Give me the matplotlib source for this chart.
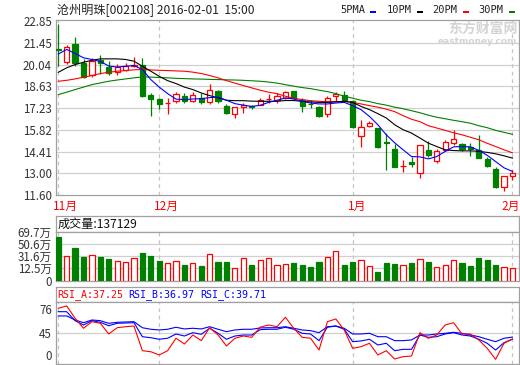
import matplotlib
matplotlib.use('Agg')
import matplotlib.pyplot as plt
import matplotlib.transforms as mtransforms
from matplotlib.patches import Rectangle
import numpy as np

plt.rcParams['font.family'] = ['Noto Sans CJK SC', 'DejaVu Sans']

# ---------------- data ----------------
title = '沧州明珠[002108] 2016-02-01  15:00'
opens = [21.09, 20.23, 21.37, 20.16, 19.40, 20.33, 19.92, 19.60, 19.68, 19.98,
         20.00, 18.06, 17.80, 17.55, 17.67, 18.04, 17.71, 17.89, 17.60, 18.36,
         17.39, 16.85, 17.30, 17.35, 17.45, 17.80, 17.78, 17.89, 18.31, 17.73,
         17.52, 17.30, 16.86, 18.04, 18.10, 17.67, 15.44, 16.04, 15.94, 15.02,
         14.57, 13.47, 13.73, 13.01, 14.53, 13.83, 14.53, 14.96, 14.92, 14.70,
         14.53, 13.92, 13.29, 12.14, 12.84]
highs = [22.67, 21.33, 21.81, 20.40, 20.49, 20.66, 20.25, 20.07, 20.16, 20.55,
         20.46, 18.23, 17.91, 17.89, 18.25, 18.21, 18.28, 18.21, 18.82, 18.40,
         17.52, 17.30, 17.56, 17.45, 17.89, 18.15, 18.21, 18.31, 18.33, 17.89,
         17.73, 17.34, 18.04, 18.25, 18.32, 17.78, 16.48, 16.37, 15.94, 15.63,
         14.90, 13.88, 14.09, 14.85, 15.07, 14.57, 15.18, 15.78, 15.00, 15.00,
         15.50, 14.09, 13.44, 12.84, 13.23]
lows = [19.97, 20.07, 19.97, 19.20, 19.25, 19.42, 19.38, 19.38, 19.62, 19.92,
        17.97, 16.69, 17.15, 16.82, 17.56, 17.56, 17.60, 17.52, 17.50, 17.56,
        16.87, 16.59, 16.91, 17.17, 17.41, 17.56, 17.58, 17.80, 17.82, 16.95,
        17.24, 16.65, 16.65, 17.67, 17.67, 15.94, 14.70, 16.00, 14.64, 13.23,
        13.44, 13.10, 13.44, 12.69, 14.09, 13.70, 14.42, 14.85, 14.48, 14.13,
        13.98, 13.40, 12.07, 11.86, 12.58]
closes = [20.98, 21.16, 20.14, 19.25, 20.31, 20.14, 19.53, 19.90, 19.94, 20.05,
          18.02, 17.80, 17.47, 17.58, 18.17, 17.67, 18.10, 17.63, 18.38, 17.71,
          16.91, 17.30, 17.43, 17.33, 17.78, 17.85, 18.04, 18.25, 17.89, 17.34,
          17.49, 16.69, 17.89, 18.17, 17.73, 16.00, 16.00, 16.26, 14.70, 15.00,
          13.44, 13.50, 13.62, 14.85, 14.16, 14.42, 15.03, 15.22, 14.57, 14.57,
          13.98, 13.49, 12.14, 12.84, 13.05]
ma5 = [20.73, 21.03, 20.77, 20.49, 20.38, 20.25, 19.96, 19.89, 19.94, 19.99,
       19.73, 19.08, 18.59, 18.17, 17.81, 17.78, 17.82, 17.84, 17.91, 17.94,
       17.74, 17.52, 17.42, 17.34, 17.41, 17.60, 17.73, 17.89, 17.82, 17.67,
       17.56, 17.50, 17.50, 17.56, 17.60, 17.39, 17.13, 16.69, 16.15, 15.50,
       14.98, 14.53, 14.09, 14.07, 13.94, 14.09, 14.42, 14.72, 14.74, 14.72,
       14.49, 14.17, 13.77, 13.36, 13.13]
ma10 = [19.55, 19.84, 20.05, 20.20, 20.33, 20.42, 20.42, 20.42, 20.38, 20.27,
        19.94, 19.62, 19.29, 19.01, 18.82, 18.59, 18.43, 18.21, 18.04, 17.89,
        17.74, 17.71, 17.71, 17.68, 17.67, 17.67, 17.67, 17.72, 17.72, 17.67,
        17.63, 17.60, 17.60, 17.63, 17.67, 17.60, 17.34, 17.13, 16.87, 16.59,
        16.15, 15.83, 15.61, 15.29, 14.96, 14.74, 14.53, 14.48, 14.46, 14.46,
        14.43, 14.36, 14.27, 14.14, 13.99]
ma20 = [18.97, 19.03, 19.12, 19.23, 19.34, 19.47, 19.55, 19.62, 19.66, 19.71,
        19.73, 19.70, 19.68, 19.66, 19.64, 19.62, 19.56, 19.47, 19.34, 19.19,
        19.01, 18.85, 18.69, 18.54, 18.39, 18.26, 18.17, 18.00, 17.87, 17.78,
        17.71, 17.67, 17.65, 17.65, 17.66, 17.60, 17.50, 17.39, 17.29, 17.16,
        17.00, 16.74, 16.51, 16.35, 16.09, 15.94, 15.79, 15.63, 15.50, 15.34,
        15.18, 14.95, 14.74, 14.53, 14.33]
ma30 = [18.10, 18.26, 18.43, 18.59, 18.75, 18.86, 18.97, 19.05, 19.12, 19.19,
        19.25, 19.24, 19.21, 19.19, 19.16, 19.14, 19.12, 19.11, 19.09, 19.08,
        19.06, 19.05, 19.03, 19.00, 18.97, 18.92, 18.85, 18.75, 18.65, 18.56,
        18.49, 18.39, 18.30, 18.17, 18.00, 17.87, 17.74, 17.65, 17.52, 17.42,
        17.29, 17.19, 17.06, 16.93, 16.77, 16.64, 16.54, 16.44, 16.35, 16.25,
        16.09, 15.96, 15.79, 15.66, 15.53]
volume = [62.7, 32.0, 45.2, 30.9, 33.6, 30.9, 27.3, 24.1, 22.5, 28.8,
          37.3, 32.5, 24.5, 20.9, 24.1, 18.2, 20.9, 16.6, 35.2, 22.5,
          22.5, 13.4, 28.8, 18.2, 25.7, 28.8, 17.7, 19.3, 21.4, 17.7,
          14.5, 22.5, 30.4, 40.0, 17.7, 22.5, 25.7, 16.1, 6.6, 20.9,
          19.3, 17.7, 20.9, 27.3, 22.5, 14.5, 17.7, 25.7, 20.9, 16.1,
          29.3, 25.7, 17.7, 14.5, 13.7]
rsi_a = [76.9, 79.9, 64.0, 51.1, 59.6, 57.5, 43.7, 51.8, 53.1, 54.0,
         22.1, 20.8, 16.6, 22.1, 38.2, 30.8, 42.4, 35.1, 51.8, 42.4,
         28.2, 38.2, 41.1, 39.4, 52.5, 55.3, 53.1, 65.3, 51.1, 39.4,
         38.2, 23.0, 59.6, 63.1, 48.9, 25.2, 27.3, 31.7, 16.6, 22.1,
         11.4, 14.4, 15.3, 45.4, 38.2, 42.4, 55.3, 58.3, 43.7, 43.7,
         36.0, 25.2, 11.0, 31.7, 37.25]
rsi_b = [72.5, 72.5, 60.9, 55.3, 60.9, 58.8, 54.4, 57.5, 57.9, 58.3,
         40.2, 38.9, 36.9, 38.2, 43.7, 41.1, 45.4, 43.3, 51.1, 44.6,
         36.9, 41.1, 42.4, 42.4, 49.3, 49.8, 49.8, 52.4, 49.8, 44.6,
         43.7, 35.1, 52.4, 54.0, 49.8, 33.8, 34.7, 36.9, 29.5, 31.7,
         22.1, 23.9, 23.9, 42.4, 39.4, 40.2, 43.7, 45.4, 42.4, 41.1,
         36.9, 31.7, 23.0, 32.5, 36.97]
rsi_c = [67.0, 67.0, 61.8, 58.3, 61.8, 60.9, 57.5, 58.8, 59.2, 59.6,
         51.8, 49.8, 48.9, 49.8, 52.4, 50.2, 51.1, 50.2, 53.1, 49.8,
         46.7, 48.9, 49.8, 49.8, 51.5, 51.8, 51.8, 53.1, 51.1, 48.9,
         48.0, 45.4, 53.1, 54.0, 51.1, 43.7, 43.7, 44.6, 40.2, 40.2,
         35.1, 35.1, 36.0, 42.4, 42.4, 43.7, 44.6, 45.9, 44.6, 42.4,
         40.2, 36.9, 33.8, 38.2, 39.71]
price_ticks = [11.60, 13.00, 14.41, 15.82, 17.23, 18.63, 20.04, 21.45, 22.85]
vol_tick_vals = [69.7, 50.6, 31.6, 12.5]
vol_tick_labels = ['69.7万', '50.6万', '31.6万', '12.5万', '0']
rsi_tick_vals = [76, 45]
rsi_tick_labels = ['76', '45', '0']
month_labels = ['11月', '12月', '1月', '2月']
month_idx = [0, 12, 35, 54]
ma_names = ['5PMA', '10PM', '20PM', '30PM']
vol_header = '成交量:137129'
rsi_header = ['RSI_A:37.25', 'RSI_B:36.97', 'RSI_C:39.71']

# ---------------- styling ----------------
RED = '#ff0000'
GREEN = '#008000'
BLUE = '#0000ff'
BLACK = '#000000'
FRAME = '#a0a0a0'
GRID = '#d0d0d0'
DASH = '#c4c4c4'
LAB = '#333333'
ma_colors = [BLUE, BLACK, RED, GREEN]

W, H = 520, 365
fig = plt.figure(figsize=(W / 100, H / 100), dpi=100)
fig.patch.set_facecolor('white')


def rect(x0, y0, x1, y1):
    return [x0 / W, 1 - y1 / H, (x1 - x0) / W, (y1 - y0) / H]


def style_axes(ax):
    for s in ax.spines.values():
        s.set_color(FRAME)
        s.set_linewidth(0.9)
    ax.tick_params(axis='both', length=0, labelsize=8.3, labelcolor=LAB, pad=3)
    ax.set_xticks([])


n = len(closes)
x = np.arange(n)
XL = (-0.27, 54.78)
o = np.array(opens); c = np.array(closes)
up = c >= o
cols = [RED if u else GREEN for u in up]
faces = ['white' if u else GREEN for u in up]

# ---------------- price panel ----------------
ax_p = fig.add_axes(rect(56, 19.5, 519, 195))
style_axes(ax_p)
ax_p.set_xlim(*XL)
ax_p.set_ylim(11.60, 22.97)
ax_p.set_yticks(price_ticks)
ax_p.set_yticklabels(['%.2f' % v for v in price_ticks])
for v in price_ticks[1:-1]:
    ax_p.axhline(v, color=GRID, lw=0.9, zorder=0)
for m in month_idx:
    ax_p.axvline(m, color=DASH, lw=0.9, ls=(0, (3, 3)), zorder=0.5)
ax_p.vlines(x, lows, highs, colors=cols, lw=0.9, zorder=2)
bottoms = np.minimum(o, c)
heights = np.maximum(np.abs(c - o), 0.015)
ax_p.bar(x, heights, bottom=bottoms, width=0.62, facecolor=faces,
         edgecolor=cols, linewidth=0.9, zorder=3)
for series, col, z in [(ma30, GREEN, 4), (ma20, RED, 4.1), (ma10, BLACK, 4.2), (ma5, BLUE, 4.3)]:
    ax_p.plot(x, series, color=col, lw=0.8, zorder=z)

# watermark
fig.text(483 / W, 1 - 28.5 / H, '东方财富网', fontsize=10, fontweight='bold',
         color='#d4d4d4', ha='center', va='center')
fig.text(477 / W, 1 - 41 / H, 'eastmoney.com', fontsize=6.5, fontweight='bold',
         color='#d4d4d4', ha='center', va='center', family='DejaVu Sans')

# title and legend
fig.text(57 / W, 1 - 10 / H, title, fontsize=8.7, color='#222222', ha='left', va='center')
leg_text_x = [340, 386.5, 432.5, 478]
leg_mark_x = [370, 416.5, 462.5, 509]
for name, tx, mx, col in zip(ma_names, leg_text_x, leg_mark_x, ma_colors):
    fig.text(tx / W, 1 - 10 / H, name, fontsize=7.5, color='#222222',
             ha='left', va='center', family='DejaVu Sans Mono')
    fig.add_artist(Rectangle((mx / W, 1 - 12.7 / H), 6 / W, 2 / H,
                             transform=fig.transFigure, facecolor=col, edgecolor='none'))

# month labels
trans = mtransforms.blended_transform_factory(ax_p.transData, fig.transFigure)
for k, (lab, m) in enumerate(zip(month_labels, month_idx)):
    if k == len(month_labels) - 1:
        fig.text(519.5 / W, 1 - 206.5 / H, lab, color=RED, fontsize=8.5,
                 ha='right', va='center')
    else:
        ax_p.text(m - 0.6, 1 - 206.5 / H, lab, transform=trans, color=RED,
                  fontsize=8.5, ha='left', va='center', clip_on=False)

# ---------------- volume panel ----------------
ax_vh = fig.add_axes(rect(56, 216, 519, 232.3))
style_axes(ax_vh)
ax_vh.set_yticks([])
ax_vh.text(1.5 / 463, 0.5, vol_header, transform=ax_vh.transAxes, fontsize=8.7,
           color='#111111', ha='left', va='center')

ax_v = fig.add_axes(rect(56, 232.3, 519, 280.7))
style_axes(ax_v)
VMIN = -7.2
ax_v.set_xlim(*XL)
ax_v.set_ylim(VMIN, 69.7)
ax_v.set_yticks(vol_tick_vals + [VMIN])
ax_v.set_yticklabels(vol_tick_labels)
for v in vol_tick_vals[1:]:
    ax_v.axhline(v, color=GRID, lw=0.9, zorder=0)
for m in month_idx:
    ax_v.axvline(m, color=DASH, lw=0.9, ls=(0, (3, 3)), zorder=0.5)
vh = np.array(volume) - VMIN
ax_v.bar(x, vh, bottom=VMIN, width=0.62, facecolor=faces, edgecolor=cols,
         linewidth=0.9, zorder=3)

# ---------------- RSI panel ----------------
ax_rh = fig.add_axes(rect(56, 287.3, 519, 301.7))
style_axes(ax_rh)
ax_rh.set_yticks([])
for txt, px, col in zip(rsi_header, [57, 128.5, 200], [RED, BLUE, BLUE]):
    ax_rh.text((px - 56) / 463, 0.5, txt, transform=ax_rh.transAxes, fontsize=7.2,
               color=col, ha='left', va='center', family='DejaVu Sans Mono')

ax_r = fig.add_axes(rect(56, 301.7, 519, 364))
style_axes(ax_r)
ax_r.set_xlim(*XL)
ax_r.set_ylim(4.95, 85.4)
zero_label_pos = 45 - 22 / 0.774
ax_r.set_yticks(rsi_tick_vals + [zero_label_pos])
ax_r.set_yticklabels(rsi_tick_labels)
ax_r.axhline(45, color=GRID, lw=0.9, zorder=0)
for m in month_idx:
    ax_r.axvline(m, color=DASH, lw=0.9, ls=(0, (3, 3)), zorder=0.5)
ax_r.plot(x, rsi_c, color=BLUE, lw=0.8, zorder=3)
ax_r.plot(x, rsi_b, color=BLUE, lw=0.8, zorder=3)
ax_r.plot(x, rsi_a, color=RED, lw=0.8, zorder=4)

fig.savefig('out.png', dpi=100)
